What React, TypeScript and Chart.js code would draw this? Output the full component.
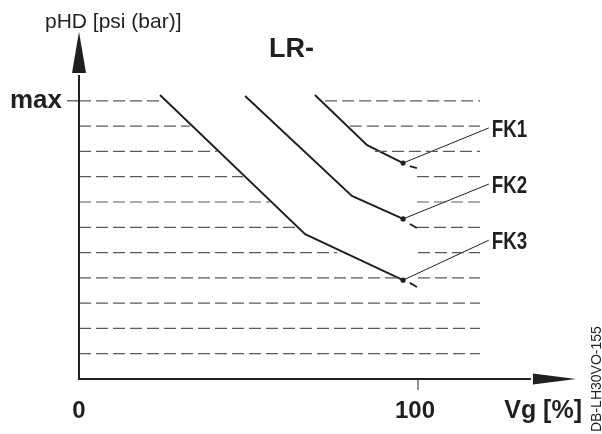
import React, { useEffect, useRef } from "react";
import { Chart, registerables } from "chart.js";

Chart.register(...registerables);

// ---- data (x in % of Vg, y in grid steps of pHD) ----
const gridRows = [1, 2, 3, 4, 5, 6, 7, 8, 9, 10, 11];
const rowSegments: number[][][] = [
  [[0, 118.3]],
  [[0, 118.3]],
  [[0, 118.3]],
  [[0, 93.8], [100, 118.3]],
  [[0, 76.1], [100, 118.3]],
  [[0, 65.2], [99.7, 118.3]],
  [[0, 56.3], [99.7, 118.3]],
  [[0, 48.4], [99.7, 118.3]],
  [[0, 40.7], [87.3, 118.3]],
  [[0, 32.7], [79.9, 118.3]],
  [[0, 23.9], [72.6, 118.3]],
];

const curveNames = ["FK1", "FK2", "FK3"];
const curveX = [
  [69.6, 85.0, 95.6],
  [49.0, 80.5, 95.6],
  [23.9, 66.7, 95.6],
];
const curveY = [
  [11.23, 9.25, 8.54],
  [11.19, 7.24, 6.33],
  [11.23, 5.73, 3.91],
];
const tailX = [
  [97.6, 99.7],
  [97.6, 99.7],
  [97.6, 99.7],
];
const tailY = [
  [8.42, 8.34],
  [6.13, 5.97],
  [3.8, 3.64],
];
const labelX = [120.9, 120.9, 120.9];
const labelY = [9.93, 7.71, 5.49];

const xTickValues = [0, 100];
const xTickLabels = ["0", "100"];
const maxLevel = 11;

const X_MAX = 150;
const Y_MAX = 14;

const TEXT = "#231f20";

function buildDatasets() {
  const ds: any[] = [];
  gridRows.forEach((r, i) => {
    const pts: any[] = [];
    rowSegments[i].forEach(([a, b]) => {
      pts.push({ x: a, y: r }, { x: b, y: r }, { x: b + 0.01, y: null });
    });
    ds.push({
      data: pts,
      borderColor: "#5a5a5a",
      borderWidth: 1.2,
      borderDash: [12, 5],
      pointRadius: 0,
      spanGaps: false,
      tension: 0,
    });
  });
  curveNames.forEach((_, i) => {
    const pts: any[] = curveX[i].map((x, k) => ({ x, y: curveY[i][k] }));
    pts.push({ x: (curveX[i][2] + tailX[i][0]) / 2, y: null });
    tailX[i].forEach((x, k) => pts.push({ x, y: tailY[i][k] }));
    ds.push({
      data: pts,
      borderColor: TEXT,
      borderWidth: 1.9,
      pointRadius: pts.map((_, k) => (k === 2 ? 2.6 : 0)),
      pointBackgroundColor: TEXT,
      pointBorderWidth: 0,
      spanGaps: false,
      tension: 0,
    });
    ds.push({
      data: [
        { x: curveX[i][2], y: curveY[i][2] },
        { x: labelX[i], y: labelY[i] },
      ],
      borderColor: TEXT,
      borderWidth: 1,
      pointRadius: 0,
      tension: 0,
    });
  });
  return ds;
}

function txt(
  ctx: CanvasRenderingContext2D,
  s: string,
  x: number,
  y: number,
  font: string,
  align: CanvasTextAlign,
  sx = 1
) {
  ctx.save();
  ctx.font = font;
  ctx.fillStyle = TEXT;
  ctx.textBaseline = "alphabetic";
  ctx.textAlign = align;
  ctx.translate(x, y);
  ctx.scale(sx, 1);
  ctx.fillText(s, 0, 0);
  ctx.restore();
}

const decorPlugin = {
  id: "decor",
  afterDatasetsDraw(chart: any) {
    const ctx: CanvasRenderingContext2D = chart.ctx;
    const xs = chart.scales.x;
    const ys = chart.scales.y;
    const x0 = xs.getPixelForValue(0);
    const y0 = ys.getPixelForValue(0);
    ctx.save();
    ctx.strokeStyle = TEXT;
    ctx.fillStyle = TEXT;
    ctx.lineWidth = 2;
    // axes
    const yTip = ys.getPixelForValue(13.73);
    const yBase = ys.getPixelForValue(12.1);
    const xTip = xs.getPixelForValue(146.6);
    const xBase = xs.getPixelForValue(133.9);
    ctx.beginPath();
    ctx.moveTo(x0, yBase + 2);
    ctx.lineTo(x0, y0);
    ctx.lineTo(xBase - 2, y0);
    ctx.stroke();
    ctx.beginPath();
    ctx.moveTo(x0, yTip);
    ctx.lineTo(x0 - 7, yBase);
    ctx.lineTo(x0 + 7, yBase);
    ctx.closePath();
    ctx.fill();
    ctx.beginPath();
    ctx.moveTo(xTip, y0);
    ctx.lineTo(xBase, y0 - 5.5);
    ctx.lineTo(xBase, y0 + 5.5);
    ctx.closePath();
    ctx.fill();
    // ticks
    ctx.lineWidth = 1;
    const x100 = xs.getPixelForValue(100);
    ctx.beginPath();
    ctx.moveTo(x100, y0);
    ctx.lineTo(x100, y0 + 11);
    const yMax = ys.getPixelForValue(maxLevel);
    ctx.moveTo(x0 - 12, yMax);
    ctx.lineTo(x0, yMax);
    ctx.stroke();
    ctx.restore();

    // texts
    txt(ctx, "pHD [psi (bar)]", 45, 28, "21px 'Liberation Sans', Arial, sans-serif", "left");
    txt(ctx, "LR-", 269, 57, "bold 27px 'Liberation Sans', Arial, sans-serif", "left");
    txt(ctx, "max", 62, yMax + 7, "bold 26px 'Liberation Sans', Arial, sans-serif", "right");
    xTickValues.forEach((v, i) => {
      txt(ctx, xTickLabels[i], xs.getPixelForValue(v) - (v === 0 ? 0 : 3), y0 + 39, "bold 24px 'Liberation Sans', Arial, sans-serif", "center");
    });
    txt(ctx, "Vg [%]", 582, y0 + 39, "bold 25px 'Liberation Sans', Arial, sans-serif", "right");
    curveNames.forEach((n, i) => {
      txt(ctx, n, xs.getPixelForValue(labelX[i]) + 3, ys.getPixelForValue(labelY[i]) + 9, "bold 24px 'Liberation Sans', Arial, sans-serif", "left", 0.78);
    });
    ctx.save();
    ctx.font = "14px 'Liberation Sans', Arial, sans-serif";
    ctx.fillStyle = TEXT;
    ctx.translate(601, 432);
    ctx.rotate(-Math.PI / 2);
    ctx.textAlign = "left";
    ctx.textBaseline = "alphabetic";
    ctx.fillText("DB-LH30VO-155", 0, 0);
    ctx.restore();
  },
};

export default function App() {
  const ref = useRef<HTMLCanvasElement | null>(null);
  useEffect(() => {
    if (!ref.current) return;
    const chart = new Chart(ref.current, {
      type: "line",
      data: { datasets: buildDatasets() },
      options: {
        animation: false,
        responsive: false,
        maintainAspectRatio: false,
        events: [],
        layout: { padding: { left: 79, right: 14.5, top: 25, bottom: 55 } },
        scales: {
          x: { type: "linear", min: 0, max: X_MAX, display: false },
          y: { type: "linear", min: 0, max: Y_MAX, display: false },
        },
        plugins: { legend: { display: false }, tooltip: { enabled: false } },
      },
      plugins: [decorPlugin],
    } as any);
    return () => chart.destroy();
  }, []);
  return (
    <div style={{ position: "absolute", left: 0, top: 0, width: 602, height: 434, background: "#fff" }}>
      <canvas ref={ref} width={602} height={434} style={{ display: "block" }} />
    </div>
  );
}
